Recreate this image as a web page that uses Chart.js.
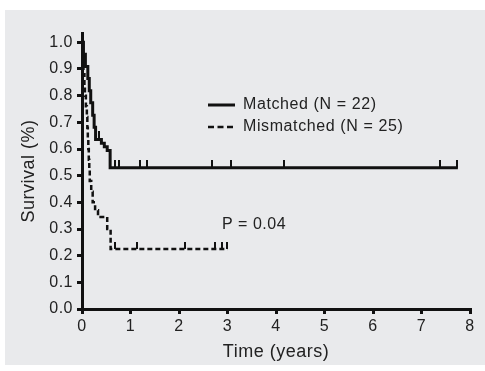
<!DOCTYPE html>
<html>
<head>
<meta charset="utf-8">
<script src="https://cdn.jsdelivr.net/npm/chart.js@4"></script>
<style>
  html, body { margin: 0; padding: 0; background: #fff; }
  #wrap { position: absolute; left: 5px; top: 10px; width: 480px; height: 355px; background: #e9eaec; }
</style>
</head>
<body>
<div id="wrap"><canvas id="kmChart" width="480" height="355"></canvas></div>
<script>
// Kaplan-Meier steps (time in years, survival fraction)
const matchedTimes = [0, 0.03, 0.07, 0.12, 0.15, 0.18, 0.22, 0.25, 0.28, 0.40, 0.46, 0.52, 0.58, 7.75];
const matchedSurv  = [1.0, 0.955, 0.909, 0.864, 0.818, 0.773, 0.727, 0.682, 0.636, 0.622, 0.608, 0.594, 0.53, 0.53];
const matchedCensored = [0.35, 0.68, 0.76, 1.2, 1.34, 2.68, 3.07, 4.16, 7.38, 7.73];

const mismatchedTimes = [0, 0.01, 0.02, 0.03, 0.05, 0.06, 0.08, 0.10, 0.11, 0.12, 0.13, 0.14, 0.15, 0.16, 0.19, 0.22, 0.27, 0.33, 0.52, 0.59, 3.0];
const mismatchedSurv  = [1.0, 0.96, 0.92, 0.88, 0.84, 0.80, 0.76, 0.72, 0.68, 0.64, 0.60, 0.56, 0.52, 0.48, 0.44, 0.40, 0.37, 0.345, 0.30, 0.225, 0.225];
const mismatchedCensored = [0.68, 1.13, 2.12, 2.74, 2.88, 2.98];

const xTicks = [0, 1, 2, 3, 4, 5, 6, 7, 8];
const yTicks = [0, 0.1, 0.2, 0.3, 0.4, 0.5, 0.6, 0.7, 0.8, 0.9, 1.0];

const FONT = '"Liberation Sans", Arial, Helvetica, sans-serif';

function toPoints(times, surv) {
  return times.map((t, i) => ({ x: t, y: surv[i] }));
}

// survival level at time t, looked up from the step data
function survAt(times, surv, t) {
  let s = surv[0];
  for (let i = 0; i < times.length; i++) {
    if (times[i] <= t) s = surv[i];
  }
  return s;
}

function censorPoints(cens, times, surv) {
  return cens.map(t => ({ x: t, y: survAt(times, surv, t) }));
}

// small upward tick used as the censoring mark
function makeTick(w, h) {
  const c = document.createElement('canvas');
  c.width = w; c.height = h * 2;
  const g = c.getContext('2d');
  g.fillStyle = '#111';
  g.fillRect(0, 0, w, h);
  return c;
}
const tickMark = makeTick(2, 8);
const tickMarkThin = makeTick(2, 7);

// the printed figure has slightly tracked-out lettering
const spacingPlugin = {
  id: 'letterSpacing',
  beforeDraw(chart) {
    chart.ctx.letterSpacing = '0.5px';
  }
};

const legendPlugin = {
  id: 'inlineLegend',
  afterDraw(chart) {
    const ctx = chart.ctx;
    ctx.save();
    ctx.strokeStyle = '#111';
    ctx.lineWidth = 3;
    ctx.beginPath();
    ctx.moveTo(203, 95);
    ctx.lineTo(230, 95);
    ctx.stroke();
    ctx.lineWidth = 2.5;
    ctx.setLineDash([6, 3.5]);
    ctx.beginPath();
    ctx.moveTo(203, 117);
    ctx.lineTo(230, 117);
    ctx.stroke();
    ctx.setLineDash([]);
    ctx.fillStyle = '#222';
    ctx.letterSpacing = '0.6px';
    ctx.font = '16px ' + FONT;
    ctx.textBaseline = 'middle';
    ctx.fillText('Matched (N = 22)', 238, 95);
    ctx.fillText('Mismatched (N = 25)', 238, 117);
    ctx.letterSpacing = '0.5px';
    ctx.fillText('P = 0.04', 217, 215);
    ctx.restore();
  }
};

const ctx = document.getElementById('kmChart').getContext('2d');
const chart = new Chart(ctx, {
  type: 'scatter',
  data: {
    datasets: [
      {
        label: 'Matched (N = 22)',
        data: toPoints(matchedTimes, matchedSurv),
        showLine: true,
        stepped: 'before',
        borderColor: '#111',
        borderWidth: 3,
        pointRadius: 0
      },
      {
        label: 'Mismatched (N = 25)',
        data: toPoints(mismatchedTimes, mismatchedSurv),
        showLine: true,
        stepped: 'before',
        borderColor: '#111',
        borderWidth: 2.5,
        borderDash: [5, 3],
        pointRadius: 0
      },
      {
        label: 'Matched censored',
        data: censorPoints(matchedCensored, matchedTimes, matchedSurv),
        showLine: false,
        pointStyle: tickMark,
        pointRadius: 3
      },
      {
        label: 'Mismatched censored',
        data: censorPoints(mismatchedCensored, mismatchedTimes, mismatchedSurv),
        showLine: false,
        pointStyle: tickMarkThin,
        pointRadius: 3
      }
    ]
  },
  options: {
    responsive: false,
    animation: false,
    layout: { padding: { top: 23, right: 15, left: 0, bottom: 0 } },
    plugins: {
      legend: { display: false },
      tooltip: { enabled: false }
    },
    scales: {
      x: {
        type: 'linear',
        min: 0,
        max: 8,
        afterBuildTicks: s => { s.ticks = xTicks.map(v => ({ value: v })); },
        afterFit: s => { s.height = 56; },
        border: { display: true, color: '#111', width: 3 },
        grid: { display: true, drawOnChartArea: false, tickLength: 5, tickWidth: 3, tickColor: '#111', lineWidth: 3 },
        ticks: { color: '#222', padding: 3, font: { family: FONT, size: 16 }, callback: v => String(v) },
        title: { display: true, text: 'Time (years)', color: '#222', font: { family: FONT, size: 18 }, padding: { top: 0, bottom: 2 } }
      },
      y: {
        type: 'linear',
        min: 0,
        max: 1.035,
        afterBuildTicks: s => { s.ticks = yTicks.map(v => ({ value: v })); },
        afterFit: s => { s.width = 77; },
        border: { display: true, color: '#111', width: 3 },
        grid: { display: true, drawOnChartArea: false, tickLength: 5, tickWidth: 3, tickColor: '#111', lineWidth: 3 },
        ticks: { color: '#222', padding: 4, font: { family: FONT, size: 16 }, callback: v => v.toFixed(1) },
        title: { display: true, text: 'Survival (%)', color: '#222', font: { family: FONT, size: 18 }, padding: { top: 13, bottom: 0 } }
      }
    }
  },
  plugins: [spacingPlugin, legendPlugin]
});
</script>
</body>
</html>
